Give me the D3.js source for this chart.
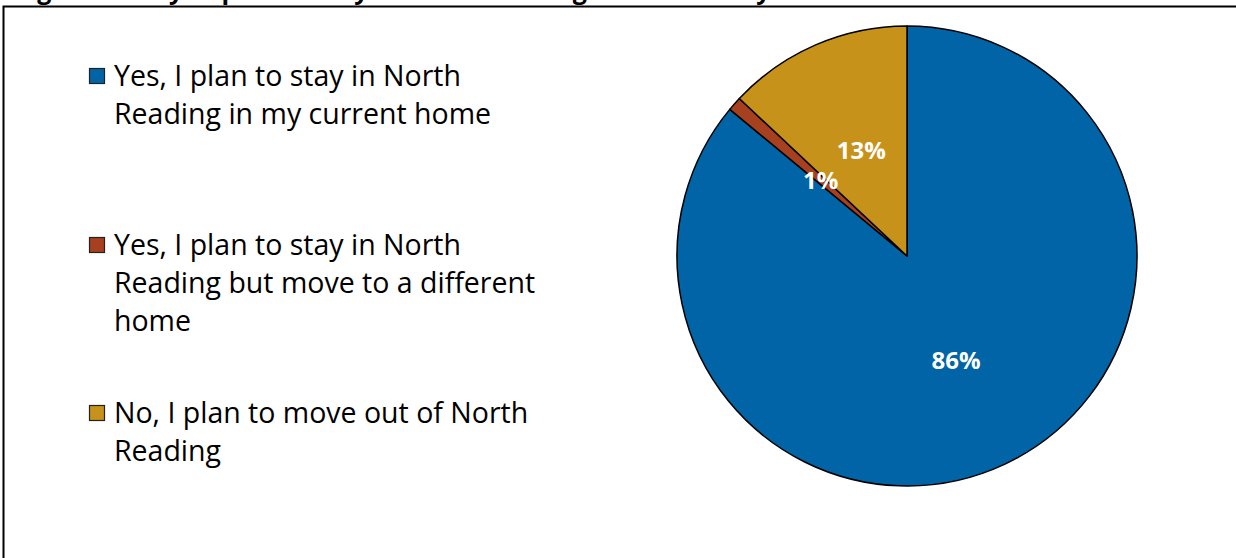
<!DOCTYPE html>
<html>
<head>
<meta charset="utf-8">
<script src="https://cdn.jsdelivr.net/npm/d3@7"></script>
<style>
  html, body { margin: 0; padding: 0; background: #ffffff; }
  svg { display: block; }
  text { font-family: "Open Sans", Lato, sans-serif; }
</style>
</head>
<body>
<svg id="chart" width="1236" height="558"></svg>
<script>
// Survey responses: plans to stay in North Reading
const categories = [
  ["Yes, I plan to stay in North", "Reading in my current home"],
  ["Yes, I plan to stay in North", "Reading but move to a different", "home"],
  ["No, I plan to move out of North", "Reading"]
];
const values = [86, 1, 13];
const colors = ["#0064A6", "#A6401F", "#C6921A"];
const titleText = "Figure 9: Do you plan to stay in North Reading in the next 5 years?";

const W = 1236, H = 558;
const svg = d3.select("#chart");

// Figure title (sits mostly above the visible area)
svg.append("text")
  .attr("x", 16).attr("y", -1)
  .attr("font-size", 25).attr("font-weight", 700)
  .attr("fill", "#000")
  .text(titleText);

// Frame
svg.append("path")
  .attr("d", `M3.5,${H + 2} L3.5,6.5 L${W + 2},6.5`)
  .attr("fill", "none").attr("stroke", "#000").attr("stroke-width", 2);

// Pie
const cx = 907, cy = 256, R = 230;
const pie = d3.pie().sort(null).value(d => d)
  .startAngle(0).endAngle(2 * Math.PI);
const arcs = pie(values);
const arc = d3.arc().innerRadius(0).outerRadius(R);

const g = svg.append("g").attr("transform", `translate(${cx},${cy})`);
g.selectAll("path.slice")
  .data(arcs)
  .join("path")
  .attr("class", "slice")
  .attr("d", arc)
  .attr("fill", (d, i) => colors[i])
  .attr("stroke", "#000")
  .attr("stroke-width", 1.5)
  .attr("stroke-linejoin", "round");

g.selectAll("text.lbl")
  .data(arcs)
  .join("text")
  .attr("class", "lbl")
  .attr("transform", d => `translate(${arc.centroid(d)})`)
  .attr("text-anchor", "middle")
  .attr("dy", "0.36em")
  .attr("font-size", 24)
  .attr("font-weight", 700)
  .attr("fill", "#fff")
  .text(d => d.data + "%");

// Legend
const legendX = 89, lineH = 38;
const legendTops = [76, 245, 413]; // centre of each entry's first line
const leg = svg.append("g");
categories.forEach((lines, i) => {
  const y0 = legendTops[i];
  leg.append("rect")
    .attr("x", legendX + 0.5).attr("y", y0 - 7.5)
    .attr("width", 15).attr("height", 15)
    .attr("fill", colors[i])
    .attr("stroke", "#222").attr("stroke-width", 1.2);
  const t = leg.append("text")
    .attr("x", legendX + 25).attr("y", y0)
    .attr("font-size", 28.5)
    .attr("fill", "#000");
  lines.forEach((ln, j) => {
    t.append("tspan")
      .attr("x", legendX + 25)
      .attr("y", y0 + j * lineH)
      .attr("dy", "0.36em")
      .text(ln);
  });
});
</script>
</body>
</html>
